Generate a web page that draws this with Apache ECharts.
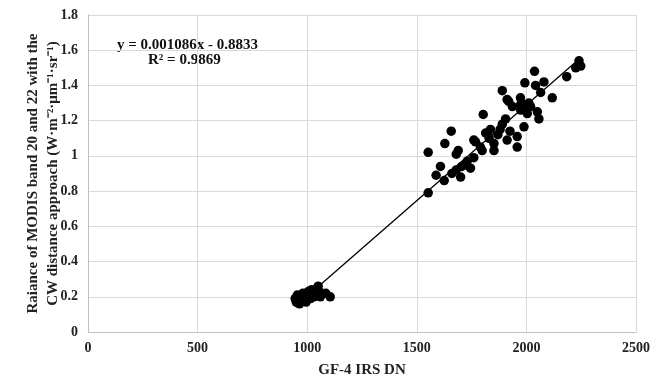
<!DOCTYPE html>
<html><head><meta charset="utf-8">
<script src="https://cdn.jsdelivr.net/npm/echarts@6/dist/echarts.min.js"></script>
<style>html,body{margin:0;padding:0;background:#fff}#c{width:663px;height:383px}</style>
</head><body><div id="c"></div>
<script>
var lowX = [945,950,955,960,965,970,975,980,985,990,995,1000,1005,1010,1015,1020,1025,1030,1035,1040,1050,1055,1060,1085,1105,1040];
var lowY = [0.19,0.17,0.21,0.18,0.16,0.20,0.18,0.22,0.19,0.21,0.17,0.20,0.23,0.21,0.19,0.24,0.22,0.20,0.22,0.21,0.26,0.23,0.20,0.22,0.20,0.24];
var highX = [1552,1552,1588,1608,1628,1657,1625,1660,1680,1689,1680,1700,1705,1722,1745,1760,1760,1768,1798,1803,1814,1836,1852,1852,1830,1890,1890,1905,1912,1912,1919,1925,1936,1958,1958,1973,1973,1974,1989,1989,1993,1996,2004,2011,2019,2037,2042,2050,2057,2065,2080,2118,2184,2225,2240,2248,1870,1880,1730,1790];
var highY = [0.79,1.02,0.89,0.94,1.07,1.14,0.86,0.90,1.01,1.03,0.92,0.88,0.94,0.95,0.93,0.99,1.09,1.08,1.03,1.235,1.13,1.15,1.03,1.07,1.10,1.18,1.37,1.21,1.09,1.32,1.31,1.14,1.28,1.11,1.05,1.29,1.33,1.26,1.165,1.29,1.415,1.28,1.24,1.30,1.28,1.48,1.40,1.25,1.21,1.36,1.42,1.33,1.45,1.50,1.54,1.51,1.12,1.15,0.97,1.05];
var trendX = [945, 2250];
var trendY = [0.143, 1.560];
var xTicks = [0,500,1000,1500,2000,2500];
var yTicks = [0,0.2,0.4,0.6,0.8,1,1.2,1.4,1.6,1.8];

var pts = [];
lowX.forEach(function(x,i){pts.push([x,lowY[i]]);});
highX.forEach(function(x,i){pts.push([x,highY[i]]);});
var trend = trendX.map(function(x,i){return [x,trendY[i]];});

var font = '"Liberation Serif","Times New Roman",serif';
var chart = echarts.init(document.getElementById('c'));
chart.setOption({
  animation:false,
  grid:{left:88,right:27,top:15,bottom:51},
  xAxis:{type:'value',min:xTicks[0],max:xTicks[xTicks.length-1],interval:500,
    name:'GF-4 IRS DN',nameLocation:'middle',nameGap:31,
    nameTextStyle:{fontFamily:font,fontWeight:'bold',fontSize:15,color:'#222'},
    axisLine:{show:true,lineStyle:{color:'#bfbfbf'}},axisTick:{show:false},
    axisLabel:{fontFamily:font,fontWeight:'bold',fontSize:14,color:'#222',margin:9,
      formatter:function(v){return String(v);}},
    splitLine:{show:true,lineStyle:{color:'#d9d9d9'}}},
  yAxis:{type:'value',min:yTicks[0],max:yTicks[yTicks.length-1],interval:0.2,
    name:'Raiance of MODIS band 20 and 22 with the\nCW distance approach (W·m⁻²·μm⁻¹·sr⁻¹)',
    nameLocation:'middle',nameGap:25,nameMoveOverlap:false,
    nameTextStyle:{fontFamily:font,fontWeight:'bold',fontSize:15,color:'#222',lineHeight:20},
    axisLine:{show:true,lineStyle:{color:'#bfbfbf'}},axisTick:{show:false},
    axisLabel:{fontFamily:font,fontWeight:'bold',fontSize:14,color:'#222',margin:10,
      formatter:function(v){return String(Math.round(v*10)/10);}},
    splitLine:{show:true,lineStyle:{color:'#d9d9d9'}}},
  graphic:[
    {type:'text',left:117,top:38,style:{text:'y = 0.001086x - 0.8833',font:'bold 15px '+font,fill:'#111'}},
    {type:'text',left:148,top:53,style:{text:'R² = 0.9869',font:'bold 15px '+font,fill:'#111'}}
  ],
  series:[
    {type:'scatter',data:pts,symbol:'circle',symbolSize:9.5,itemStyle:{color:'#000',opacity:1},z:2},
    {type:'line',data:trend,symbol:'none',lineStyle:{color:'#000',width:1.3},z:3}
  ]
});
</script></body></html>
